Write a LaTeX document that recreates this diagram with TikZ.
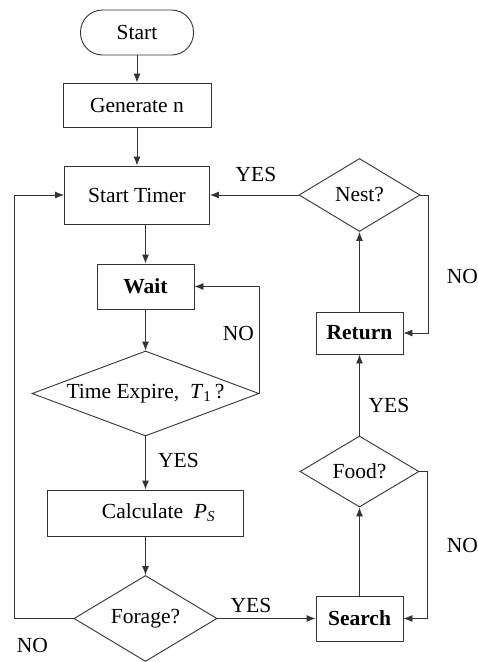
\documentclass[tikz,border=0pt]{standalone}
\usepackage{fontspec}
\setmainfont{Liberation Serif}
\usetikzlibrary{arrows.meta,shapes.geometric}
\definecolor{fcline}{HTML}{333333}

\begin{document}
\begin{tikzpicture}[x=1pt,y=1pt,
  font=\fontsize{21.5pt}{25pt}\selectfont,
  box/.style={draw=fcline,line width=0.9pt,inner sep=0pt},
  term/.style={box,rounded corners=22pt},
  test/.style={box,diamond},
  lbl/.style={inner sep=0pt},
  flow/.style={->,draw=fcline,line width=0.9pt},
  >={Latex[length=9pt,width=7pt]}]
\useasboundingbox (0,0) rectangle (478,-662);
\node[term,minimum width=113pt,minimum height=45pt] (start) at (137,-32.5) {Start};
\node[box,minimum width=148pt,minimum height=44pt] (gen) at (137,-105) {Generate n};
\node[box,minimum width=145pt,minimum height=58pt] (timer) at (137,-195) {Start Timer};
\node[box,minimum width=97pt,minimum height=45pt] (wait) at (145.5,-286.5) {\textbf{Wait}};
\node[test,aspect=2.67,minimum width=227pt,minimum height=85pt] (expire) at (145.5,-393.5)
  {Time Expire,\ \ \textit{T}\textsubscript{1}\,?};
\node[box,minimum width=196pt,minimum height=46pt] (calc) at (145.5,-513)
  {\hspace*{26pt}Calculate\ \ \textit{P}\textsubscript{\textit{S}}};
\node[test,aspect=1.67,minimum width=143pt,minimum height=86pt] (forage) at (145.5,-618.5) {Forage?};
\node[box,minimum width=87pt,minimum height=45pt] (search) at (359.5,-618.5) {\textbf{Search}};
\node[test,aspect=1.67,minimum width=119pt,minimum height=71pt] (food) at (359.5,-471.5) {Food?};
\node[box,minimum width=87pt,minimum height=42pt] (ret) at (359.5,-333) {\textbf{Return}};
\node[test,aspect=1.66,minimum width=121pt,minimum height=73pt] (nest) at (359.5,-195) {Nest?};
% connectors
\draw[flow] (start) -- (gen);
\draw[flow] (gen) -- (timer);
\draw[flow] (wait.north |- timer.south) -- (wait);
\draw[flow] (wait) -- (expire);
\draw[flow] (expire.east) |- (wait.east);
\draw[flow] (expire) -- (calc);
\draw[flow] (calc) -- (forage);
\draw[flow] (forage.west) -- ++(-59,0) |- (timer.west);
\draw[flow] (forage) -- (search);
\draw[flow] (search) -- (food);
\draw[flow] (food.east) -- ++(8,0) |- (search.east);
\draw[flow] (food) -- (ret);
\draw[flow] (ret) -- (nest);
\draw[flow] (nest.east) -- ++(8,0) |- (ret.east);
\draw[flow] (nest) -- (timer);
% branch labels
\node[lbl] (yesNest) at (256,-174.5) {YES};
\node[lbl] (noNest) at (462.5,-276.5) {NO};
\node[lbl] (noWait) at (238.5,-333.5) {NO};
\node[lbl] (yesExpire) at (178.5,-460) {YES};
\node[lbl] (yesFood) at (389,-405.5) {YES};
\node[lbl] (noFood) at (462.5,-545.5) {NO};
\node[lbl] (yesForage) at (251,-605) {YES};
\node[lbl] (noForage) at (32.5,-645) {NO};
\end{tikzpicture}
\end{document}
